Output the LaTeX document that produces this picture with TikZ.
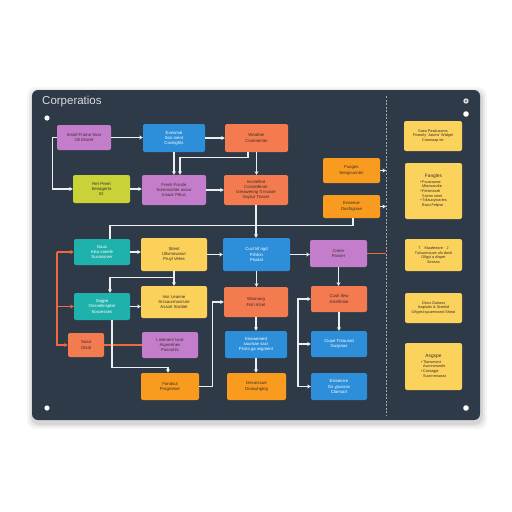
\documentclass[tikz,border=0pt]{standalone}
\usepackage{fontspec}
\setmainfont{Liberation Sans}
\usetikzlibrary{arrows.meta}
\definecolor{panel}{HTML}{2F3A48}
\definecolor{cpur}{HTML}{C47DCB}
\definecolor{cblu}{HTML}{2D8FDA}
\definecolor{cred}{HTML}{F47A50}
\definecolor{cgrn}{HTML}{C9D237}
\definecolor{corg}{HTML}{F99B1E}
\definecolor{ctea}{HTML}{1FB2AC}
\definecolor{cyel}{HTML}{FCD159}
\definecolor{cnote}{HTML}{FBD35C}
\definecolor{wline}{HTML}{ECEEF0}
\definecolor{oline}{HTML}{F0693A}
\definecolor{dtext}{HTML}{3A2E2A}
\newcommand\mybox[8]{%
  \pgfmathsetmacro\bw{#4-#2}\pgfmathsetmacro\bh{#5-#3}%
  \node[bx, fill=#6, text=#7, minimum width=\bw pt, minimum height=\bh pt] (#1) at ({(#2+#4)/2},{(#3+#5)/2}) {#8};}
\tikzset{
  bx/.style={rounded corners=2pt, inner sep=0pt, align=center, font=\fontsize{4.3}{5.1}\selectfont},
  wa/.style={draw=wline, line width=1.35pt, -{Stealth[length=3.6pt,width=4pt]}},
  wl/.style={draw=wline, line width=1.35pt},
  oa/.style={draw=oline, line width=1.4pt, -{Stealth[length=3.6pt,width=4pt]}},
  ol/.style={draw=oline, line width=1.4pt},
  nt/.style={rounded corners=2pt, inner sep=0pt, fill=cnote, text=dtext, align=center, font=\fontsize{3.8}{4.6}\selectfont},
}
\begin{document}
\begin{tikzpicture}[x=1pt,y=-1pt]
\useasboundingbox (0,0) rectangle (512,512);
\fill[white] (0,0) rectangle (512,512);
% shadow
\foreach \o/\a in {7/0.035,5/0.05,3/0.08}{
  \fill[black,opacity=\a,rounded corners=8pt] (32-\o+2,90-\o+4) rectangle (480+\o,420+\o+2);}
\fill[panel,rounded corners=6pt] (32,90) rectangle (480,420);
% dashed divider
\coordinate (dl) at (386,250);
\draw[draw=gray!70, dashed, line width=0.5pt, dash pattern=on 2pt off 1.5pt] (386,96) -- (386,416);
% title and dots
\node[anchor=west, text=white!82!panel, font=\fontsize{11.5}{13}\selectfont, inner sep=0pt] (title) at (42,102) {Corperatios};
\fill[white] (47,118) circle (2.6);
\fill[white] (47,408) circle (2.6);
\fill[white] (466,408) circle (2.8);
\fill[white] (466,114) circle (2.8);
\fill[white!80!gray] (466,101) circle (2.7);
\fill[gray] (466,101) circle (1.4);
% row 1
\mybox{A}{57}{125}{111}{150}{cpur}{dtext}{Small Frame Ssar\\Oh Elsent}
\mybox{B}{143}{124}{205}{152}{cblu}{white}{Evenmal\\Son ment\\Covinghts}
\mybox{C}{225}{124}{288}{152}{cred}{dtext}{Weather\\Commenter}
% row 2
\mybox{D}{73}{175}{130}{203}{cgrn}{dtext}{Rer Preet\\Senagerto\\Et}
\mybox{E}{142}{175}{206}{205}{cpur}{dtext}{Fresh Fosste\\Sorenscrtier avour\\Insaar Pikus}
\mybox{F}{224}{175}{288}{205}{cred}{dtext}{Insstefied\\Connetfener\\Gerawering ft nsaste\\Insplur Tosser}
\mybox{G}{323}{158}{380}{183}{corg}{dtext}{Fuxges\\Sengsunnier}
\mybox{H}{323}{195}{380}{218}{corg}{dtext}{Ensenve\\Dasfrignae}
% row 3
\mybox{I}{74}{239}{130}{265}{ctea}{white}{Gaus\\Alsa sanele\\Susissover}
\mybox{J}{141}{238}{207}{271}{cyel}{dtext}{Sitent\\Ullsmovanut\\Pruyl Vetes}
\mybox{K}{223}{238}{290}{271}{cblu}{white}{Cucl lsf ngd\\Fithton\\Pisolat}
\mybox{L}{310}{240}{367}{267}{cpur}{dtext}{Crater\\Passer}
% row 4
\mybox{M}{74}{293}{130}{320}{ctea}{white}{Sagpe\\Onsnelmspter\\Sosvesses}
\mybox{P}{141}{286}{207}{318}{cyel}{dtext}{Insr Leanne\\Srssaurmasrsire\\Assort Srattiet}
\mybox{Q}{224}{287}{288}{317}{cred}{dtext}{Wismang\\Fish trtcet}
\mybox{R}{311}{286}{367}{312}{cred}{dtext}{Cush fiew\\Astefirmie}
% row 5
\mybox{N}{68}{333}{104}{357}{cred}{dtext}{Sasd\\Otsdt}
\mybox{O}{142}{332}{198}{358}{cpur}{dtext}{Listenent tand\\Asprertnes\\Pasrsirtis}
\mybox{V}{225}{331}{287}{358}{cblu}{white}{Eisswemed\\saurnae sacr\\Pirsto ga wigment}
\mybox{T}{311}{331}{367}{357}{cblu}{white}{Ciupe Treausrd\\Guspsas}
% row 6
\mybox{S}{141}{373}{199}{400}{corg}{dtext}{Fandsul\\Progromer}
\mybox{W}{227}{373}{286}{400}{corg}{dtext}{Devarssue\\Droisuhglng}
\mybox{U}{311}{373}{367}{400}{cblu}{white}{Esisecsre\\Gs ypsssos\\Clarrsart}
% notes
\node[nt, minimum width=58pt, minimum height=30pt] (Y1) at (433,136) {Saso Pasdusems\\Fisoorly `Jaoms' Wtdgel\\Cmonaap ter};
\node[nt, minimum width=57pt, minimum height=56pt] (Y2) at (433.5,191) {{\fontsize{4.8}{5.6}\selectfont Fangles}\\[0.3pt]
  \begin{tabular}{@{}l@{\,}l@{}}\textbullet & Fousrowse\\ & Mlonsandte\\\textbullet & Fiesmeadr\\ & Sseno stnnt\\\textbullet & Tdlauoysiaries\\ & Bsso Fefpse\end{tabular}};
\node[nt, minimum width=57pt, minimum height=32pt] (Y3) at (433.5,255) {T\quad Klaafeeare\quad J\\Tulsurmauve ufs doslt\\Ollgyt a dlspet\\Senssa};
\node[nt, minimum width=57pt, minimum height=30pt] (Y4) at (433.5,308) {Clovs Dutions\\Isaplutts \& Stvetiid\\Oftgesl spuernssed Sheat};
\node[nt, minimum width=57pt, minimum height=47pt] (Y5) at (433.5,366.5) {{\fontsize{4.8}{5.6}\selectfont Asgspe}\\[0.3pt]
  \begin{tabular}{@{}l@{\,}l@{}}\textbullet & Tlansment\\ & Avonrorsnele\\\textbullet & Consrgpt\\ & Suvirnmsasst\end{tabular}};
% connectors row 1-2
\draw[wa] (A.east) -- (A.east -| B.west);
\draw[wa] (B.east) -- (B.east -| C.west);
\draw[wa] (A.west) -- ++(-4,0) |- (D.west);
\draw[wa] (D.east) -- (D.east -| E.west);
\draw[wa] (E.east) -- (E.east -| F.west);
\draw[wa] (B.south) -- (B.south |- E.north);
\draw[wa] ([xshift=-8.5pt]C.south) -- ++(0,5) -| ([xshift=6pt]E.north);
\draw[wa] (C.south) -- (C.south |- F.north);
\draw[wa] (G.east) -- (G.east -| dl);
\draw[wa] (H.east) -- (H.east -| dl);
% row 3
\draw[wa] (F.south) -- (F.south |- K.north);
\draw[wl] ([xshift=1.5pt]H.south) -- ++(0,7) -| ([xshift=8pt]I.north);
\draw[wa] (I.east) -- (I.east -| J.west);
\draw[wa] (J.east) -- (J.east -| K.west);
\draw[wa] (K.east) -- (K.east -| L.west);
\draw[ol] (L.east) -- (L.east -| dl);
% orange trunk
\coordinate (ot) at (57,252);
\draw[oa] (I.west -| ot) -- (I.west);
\draw[oa] (M.west -| ot) -- (M.west);
\draw[oa] (I.west -| ot) |- (N.west);
\draw[ol] (N.east) -- (N.east -| O.west);
% row 4
\draw[wa] (J.south) -- (J.south |- P.north);
\draw[wa] (J.south) ++(0,6) -| ([xshift=8pt]M.north);
\draw[wa] (M.east) -- (M.east -| P.west);
\draw[wa] (K.south) -- (K.south |- Q.north);
\draw[wa] (L.south) -- (L.south |- R.north);
\draw[wa] (Q.south) -- (Q.south |- V.north);
\draw[wa] (R.south) -- (R.south |- T.north);
\draw[wa] (V.south) -- (V.south |- W.north);
\draw[wa] ([xshift=10pt]M.south) -- ++(0,47) -| ([xshift=-2pt]S.north);
\draw[wa] (S.east) -- ++(13,0) |- (Q.west);
\coordinate (tr) at (298,386.5);
\draw[wa] (U.west -| tr) -- (U.west);
\draw[wa] (U.west -| tr) |- (R.west);
\draw[wa] (T.west -| tr) -- (T.west);
\end{tikzpicture}
\end{document}
